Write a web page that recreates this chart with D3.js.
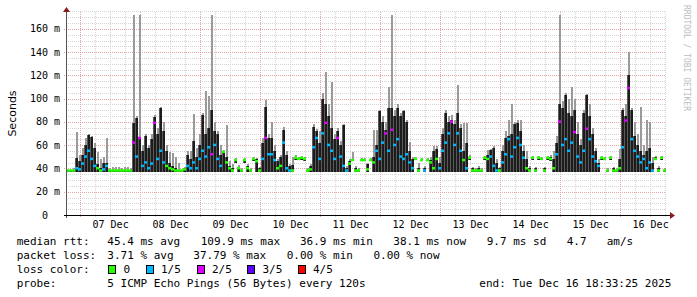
<!DOCTYPE html>
<html>
<head>
<meta charset="utf-8">
<script src="https://cdn.jsdelivr.net/npm/d3@7"></script>
<style>
  body { margin: 0; background: #fff; }
  svg text { font-family: "DejaVu Sans Mono", monospace; }
</style>
</head>
<body>
<svg id="ping_svg" width="697" height="297"></svg>
<script>
// smokeping style graph, one sample every 72 minutes over 10 days

const startTime = Date.UTC(2025, 11, 6, 18, 33, 25)
const endTime = Date.UTC(2025, 11, 16, 18, 33, 25)
const stepMin = 72

// median rtt (ms)
const median = [
  38,38,38,40,39,44,50,55,48,42, 40,38,39,42,38,38,38,38,38,38,
  38,38,62,50,66,42,45,40,44,79, 48,55,45,42,40,39,38,38,38,39,
  42,40,45,40,48,55,50,58,52,60, 48,42,54,45,40,38,47,40,38,47,
  40,38,48,46,38,48,66,52,52,47, 40,42,62,40,38,38,49,48,49,48,
  38,39,58,66,48,70,79,60,55,48, 66,50,42,38,44,47,38,38,47,47,
  39,47,45,55,48,62,70,55,73,60, 65,50,48,52,45,40,48,38,47,38,
  47,45,40,48,40,55,62,70,80,60, 70,55,47,40,49,38,38,38,38,49,
  48,50,42,38,38,45,52,65,50,58, 66,60,49,40,38,49,38,49,48,38,
  49,48,40,52,80,60,65,55,62,71, 50,45,55,74,65,50,46,42,49,48,
  38,49,38,38,40,58,81,109,65,55, 50,45,48,40,45,38,48,38,49,38
]
// lost pings out of 5
const loss = [
  0,0,0,1,1,1,1,1,1,1, 0,0,1,1,0,0,0,0,0,0,
  0,0,2,1,2,1,1,1,1,2, 1,1,1,0,0,0,0,0,0,0,
  1,1,1,1,1,1,1,1,2,1, 1,1,0,0,0,0,0,0,0,0,
  0,0,0,0,0,1,2,1,1,1, 0,0,1,1,1,0,0,0,0,0,
  0,0,1,1,1,1,2,1,1,1, 2,1,1,1,0,0,0,0,0,0,
  0,0,0,1,1,1,2,1,2,1, 1,1,1,1,1,1,0,0,0,1,
  0,0,0,0,1,1,1,1,2,1, 1,1,0,1,0,0,0,0,0,0,
  0,1,1,1,0,1,1,1,1,1, 1,1,1,0,0,0,0,0,0,0,
  0,0,0,1,2,1,1,1,1,2, 1,1,1,2,1,1,1,1,0,0,
  0,0,0,0,0,1,2,2,1,1, 1,1,1,1,1,1,0,0,0,0
]
// lowest ping
const smokeLo = [
  37,37,37,37,37,37,37,37,37,37, 37,37,37,37,37,37,37,37,37,37,
  37,37,37,37,37,37,37,37,37,37, 37,37,37,37,37,37,37,37,37,37,
  37,37,37,37,37,37,37,37,37,37, 37,37,37,37,37,37,45,37,37,45,
  37,37,46,37,37,37,37,37,37,37, 37,37,37,37,37,37,47,47,47,46,
  37,37,37,37,37,37,37,37,37,37, 37,37,37,37,37,46,37,37,46,46,
  37,46,37,37,37,37,37,37,37,37, 37,37,37,37,37,37,47,37,46,37,
  46,37,37,37,37,37,37,37,37,37, 37,37,37,37,47,37,37,37,37,47,
  37,37,37,37,37,37,37,37,37,37, 37,37,37,37,37,47,37,47,47,37,
  47,46,37,37,37,37,37,37,37,37, 37,37,37,37,37,37,37,37,47,47,
  37,47,37,37,37,37,37,37,37,37, 37,37,37,37,37,37,47,37,47,37
]
// upper edge of the dense smoke
const smokeDark = [
  38,38,39,49,46,52,60,69,67,58, 44,40,45,45,39,38,38,38,38,38,
  38,39,79,83,66,55,68,58,65,84, 70,92,72,55,45,42,40,39,38,40,
  52,48,64,50,60,86,70,75,90,72, 70,52,55,50,42,40,48,41,39,48,
  42,39,49,48,40,62,93,66,66,55, 46,50,73,52,42,43,50,49,50,49,
  39,42,76,72,62,100,95,85,75,65, 72,60,77,40,46,48,40,39,48,48,
  44,48,50,60,89,80,73,92,92,85, 92,85,89,80,55,48,49,40,48,40,
  48,47,55,57,45,70,88,80,82,78, 88,75,55,62,50,40,39,40,39,50,
  52,56,58,45,40,55,66,68,70,78, 79,72,55,48,40,50,40,50,49,40,
  50,50,48,62,95,92,103,88,85,90, 70,60,88,103,85,70,55,45,50,49,
  39,50,40,39,48,90,85,120,90,68, 60,55,52,55,58,45,50,40,50,39
]
// highest ping
const smokeHi = [
  39,39,40,71,52,58,66,70,68,62, 54,48,50,66,40,41,41,41,40,41,
  41,40,172,85,172,60,70,60,70,86, 75,93,80,60,54,53,50,45,39,41,
  55,55,87,58,70,88,107,102,172,80, 72,60,56,77,46,44,49,43,40,49,
  44,40,50,49,41,66,99,70,80,60, 48,52,76,55,44,50,52,50,51,50,
  40,44,78,74,72,105,123,95,114,70, 75,64,78,42,48,54,42,40,49,49,
  45,49,73,73,90,85,80,110,172,90, 95,88,90,82,63,50,50,45,49,42,
  49,50,59,59,50,75,90,85,86,82, 112,78,79,79,52,41,40,42,40,51,
  56,57,59,48,41,60,72,82,95,80, 82,82,60,55,42,51,41,51,50,41,
  51,52,55,68,172,98,105,100,110,100, 80,65,90,104,95,75,58,48,51,50,
  40,51,41,40,57,92,95,140,92,80, 70,93,60,82,80,50,51,42,51,40
]

const lossColors = ['#26ff00', '#00b8ff', '#dd00ff', '#5e00ff', '#ff0000']
const lossLabels = ['0', '1/5', '2/5', '3/5', '4/5']
const yTicks = [0, 20, 40, 60, 80, 100, 120, 140, 160]

const svg = d3.select('#ping_svg')
const plot = { left: 66, right: 666, top: 12, bottom: 215 }

const xScale = d3.scaleUtc()
    .domain([startTime, endTime])
    .range([plot.left, plot.right])

const yScale = d3.scaleLinear()
    .domain([0, 174.5])
    .range([plot.bottom, plot.top])

const samples = median.map((m, i) => {
    const t0 = startTime + i * stepMin * 60000
    return { t0: t0, t1: t0 + stepMin * 60000, median: m, loss: loss[i],
             lo: smokeLo[i], dark: smokeDark[i], hi: smokeHi[i] }
})

// grid
const grid = svg.append('g').attr('shape-rendering', 'crispEdges')
const minorX = d3.utcHour.every(6).range(startTime, endTime).filter(d => d.getUTCHours() !== 0)
const majorX = d3.utcDay.range(startTime, endTime)

grid.selectAll('.hminor')
    .data(d3.range(5, 176, 5).filter(v => v % 20 !== 0))
    .enter().append('line')
    .attr('x1', plot.left).attr('x2', plot.right)
    .attr('y1', d => Math.round(yScale(d)) + 0.5)
    .attr('y2', d => Math.round(yScale(d)) + 0.5)
    .style('stroke', '#d4d4d4').style('stroke-dasharray', '1,1')

grid.selectAll('.vminor')
    .data(minorX)
    .enter().append('line')
    .attr('x1', d => Math.round(xScale(d)) + 0.5)
    .attr('x2', d => Math.round(xScale(d)) + 0.5)
    .attr('y1', plot.top).attr('y2', plot.bottom + 2)
    .style('stroke', '#d4d4d4').style('stroke-dasharray', '1,1')

grid.selectAll('.hmajor')
    .data(yTicks.slice(1))
    .enter().append('line')
    .attr('x1', plot.left - 2).attr('x2', plot.right)
    .attr('y1', d => Math.round(yScale(d)) + 0.5)
    .attr('y2', d => Math.round(yScale(d)) + 0.5)
    .style('stroke', '#e6a6a6').style('stroke-dasharray', '1,1')

grid.selectAll('.vmajor')
    .data(majorX)
    .enter().append('line')
    .attr('x1', d => Math.round(xScale(d)) + 0.5)
    .attr('x2', d => Math.round(xScale(d)) + 0.5)
    .attr('y1', plot.top).attr('y2', plot.bottom + 3)
    .style('stroke', '#e6a6a6').style('stroke-dasharray', '1,1')

// smoke: outer pings thin and light, inner pings darker
const smoke = svg.append('g').attr('shape-rendering', 'crispEdges')
smoke.selectAll('.hi')
    .data(samples)
    .enter().append('rect')
    .attr('x', d => xScale(d.t0) + 1)
    .attr('width', 1.5)
    .attr('y', d => yScale(d.hi))
    .attr('height', d => yScale(d.lo) - yScale(d.hi))
    .style('fill', '#9a9a9a')

smoke.selectAll('.mid')
    .data(samples)
    .enter().append('rect')
    .attr('x', d => xScale(d.t0))
    .attr('width', d => xScale(d.t1) - xScale(d.t0))
    .attr('y', d => yScale(d.dark))
    .attr('height', d => yScale(d.lo) - yScale(d.dark))
    .style('fill', '#5a5a5a')

smoke.selectAll('.dark')
    .data(samples)
    .enter().append('rect')
    .attr('x', d => xScale(d.t0) + 0.5)
    .attr('width', 2)
    .attr('y', d => yScale(d.dark))
    .attr('height', d => yScale(d.lo) - yScale(d.dark))
    .style('fill', '#1c1c1c')

// median coloured by loss
svg.append('g')
    .selectAll('rect')
    .data(samples)
    .enter().append('rect')
    .attr('x', d => xScale(d.t0))
    .attr('width', d => xScale(d.t1) - xScale(d.t0))
    .attr('y', d => yScale(d.median) - 1.5)
    .attr('height', 2.5)
    .style('fill', d => lossColors[d.loss])

// axes
const axes = svg.append('g').attr('shape-rendering', 'crispEdges')
axes.append('line')
    .attr('x1', plot.left + 0.5).attr('x2', plot.left + 0.5)
    .attr('y1', plot.bottom + 3).attr('y2', plot.top - 2)
    .style('stroke', '#555')
axes.append('line')
    .attr('x1', plot.left - 2).attr('x2', plot.right + 5)
    .attr('y1', plot.bottom + 0.5).attr('y2', plot.bottom + 0.5)
    .style('stroke', '#000')
svg.append('path')
    .attr('d', `M${plot.left - 3},${plot.top} L${plot.left + 4},${plot.top} L${plot.left + 0.5},${plot.top - 5} Z`)
    .style('fill', '#8c1c1c')
svg.append('path')
    .attr('d', `M${plot.right + 4},${plot.bottom - 3} L${plot.right + 4},${plot.bottom + 4} L${plot.right + 9},${plot.bottom + 0.5} Z`)
    .style('fill', '#8c1c1c')

// tick labels
svg.append('g')
    .selectAll('text')
    .data(yTicks)
    .enter().append('text')
    .attr('x', 60)
    .attr('y', d => yScale(d) + 3.5)
    .attr('text-anchor', 'end')
    .style('font-size', '10px')
    .style('white-space', 'pre')
    .text(d => d === 0 ? '0\u00a0\u00a0' : `${d} m`)

svg.append('g')
    .selectAll('text')
    .data(d3.utcDay.range(startTime, endTime).map(d => d3.utcHour.offset(d, 12)))
    .enter().append('text')
    .attr('x', d => xScale(d) + 1)
    .attr('y', 228)
    .attr('text-anchor', 'middle')
    .style('font-size', '10px')
    .text(d3.utcFormat('%d %b'))

svg.append('text')
    .attr('transform', 'translate(16,113.5) rotate(-90)')
    .attr('text-anchor', 'middle')
    .style('font-family', '"DejaVu Sans", sans-serif')
    .style('font-size', '11px')
    .text('Seconds')

svg.append('text')
    .attr('transform', 'translate(684,5) rotate(90)')
    .style('font-size', '8px')
    .style('fill', '#bdbdbd')
    .text('RRDTOOL / TOBI OETIKER')

// legend
const legendRows = [
    [[16.7, 'median rtt:'], [107.3, '45.4 ms avg'], [200.7, '109.9 ms max'], [300, '36.9 ms min'],
     [393.3, '38.1 ms now'], [486.7, '9.7 ms sd'], [566.7, '4.7'], [606.7, 'am/s']],
    [[16.7, 'packet loss:'], [107.3, '3.71 % avg'], [193.3, '37.79 % max'], [286.7, '0.00 % min'],
     [373.4, '0.00 % now']],
    [[16.7, 'loss color:']],
    [[16.7, 'probe:'], [107.3, '5 ICMP Echo Pings (56 Bytes) every 120s'], [479.3, 'end: Tue Dec 16 18:33:25 2025']]
]
const legend = svg.append('g').style('font-size', '11px')
legendRows.forEach((row, r) => {
    legend.selectAll(null)
        .data(row)
        .enter().append('text')
        .attr('x', d => d[0])
        .attr('y', 245 + r * 14)
        .text(d => d[1])
})

const swatchX = [108.5, 146, 197, 247.5, 298]
legend.selectAll('.sw')
    .data(lossLabels)
    .enter().append('rect')
    .attr('x', (d, i) => swatchX[i])
    .attr('y', 265.5)
    .attr('width', 7).attr('height', 8)
    .style('fill', (d, i) => lossColors[i])
    .style('stroke', '#000')
    .attr('shape-rendering', 'crispEdges')
legend.selectAll('.swl')
    .data(lossLabels)
    .enter().append('text')
    .attr('x', (d, i) => swatchX[i] + 15)
    .attr('y', 273)
    .text(d => d)
</script>
</body>
</html>
